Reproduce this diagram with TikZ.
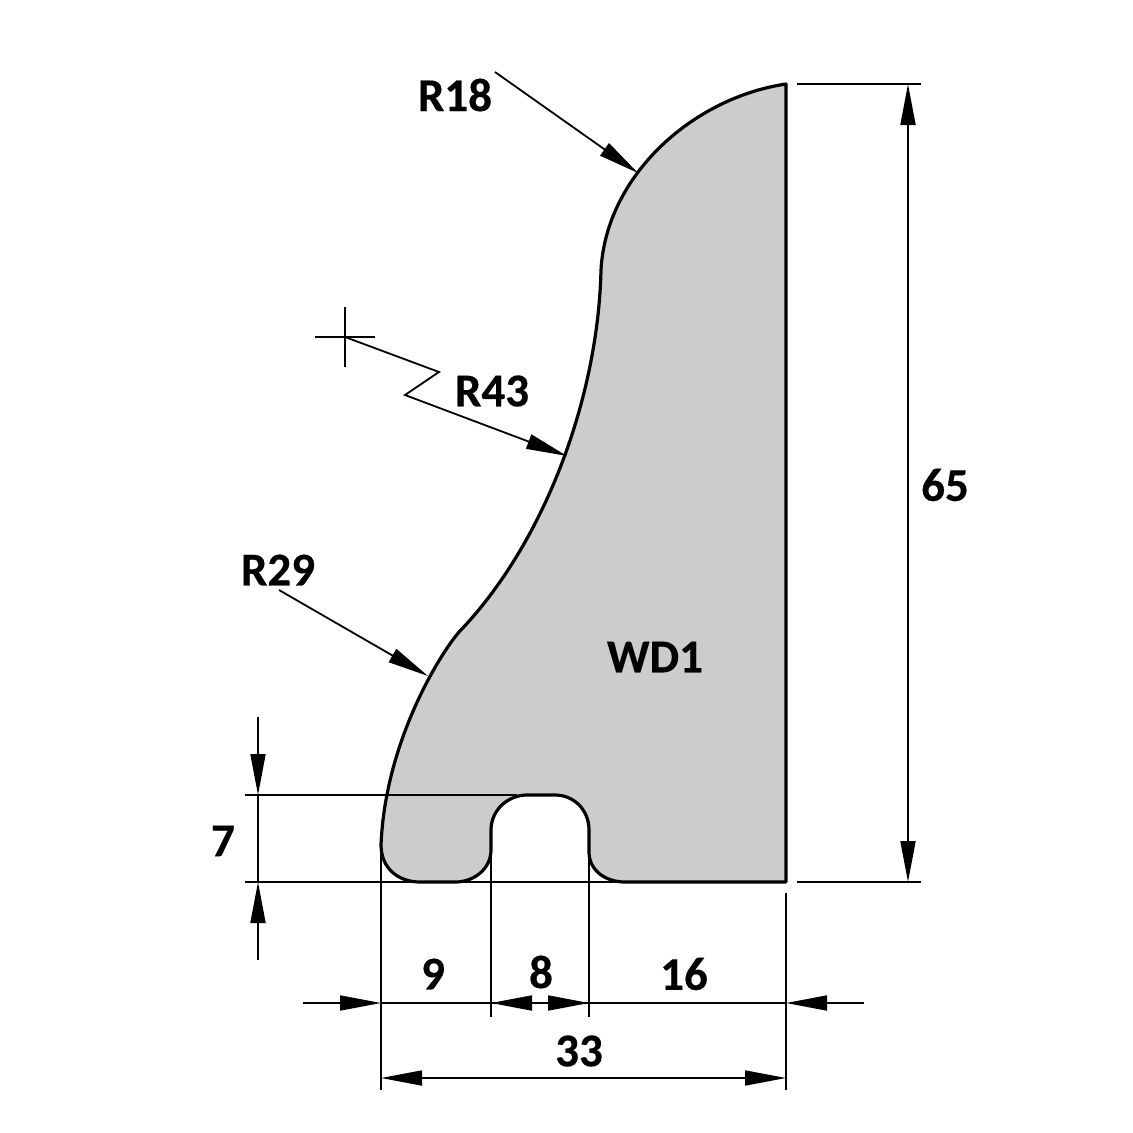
\documentclass[tikz,border=0pt]{standalone}
\usepackage{fontspec}
\setmainfont{Carlito}[BoldFeatures={FakeBold=0.4}]
\usetikzlibrary{arrows.meta}
\tikzset{
  dimline/.style={draw=black,line width=1.8pt},
  tip/.style={-{Triangle[length=41pt,width=15pt]}},
  bothtips/.style={{Triangle[length=41pt,width=15pt]}-{Triangle[length=41pt,width=15pt]}},
  label/.style={font=\fontsize{47}{47}\selectfont\bfseries,inner sep=0pt,text=black},
  profile/.style={draw=black,line width=3.2pt,fill=black!20,line join=round},
}
\begin{document}
\begin{tikzpicture}[x=1pt,y=-1pt]
\useasboundingbox (0,0) rectangle (1133,1133);
\fill[white] (0,0) rectangle (1133,1133);
% profile
\draw[profile] (786,84)
  .. controls (692,98) and (606,176) .. (601,270)
  .. controls (598,400) and (543,545) .. (459,632)
  .. controls (437,658) and (385,745) .. (381,845)
  .. controls (381,868) and (398,882) .. (420,882)
  -- (455,882)
  .. controls (475,882) and (491,868) .. (491,850)
  -- (491,830)
  .. controls (491,810) and (508,795) .. (527,795)
  -- (555,795)
  .. controls (574,795) and (589,810) .. (589,830)
  -- (589,852)
  .. controls (589,870) and (605,882) .. (625,882)
  -- (786,882) -- cycle;
% named points
\coordinate (top) at (908,84);
\coordinate (bot) at (908,882);
\coordinate (t18a) at (495,72);
\coordinate (t18b) at (638,173);
\coordinate (t29a) at (279,590);
\coordinate (t29b) at (428,676);
\coordinate (cc) at (345,337);
\coordinate (z1) at (439,372);
\coordinate (z2) at (405,395);
\coordinate (t43) at (567,456);
% extension lines
\draw[dimline] (797,84) -- (921,84);
\draw[dimline] (797,882) -- (921,882);
\draw[dimline] (245,795) -- (517,795);
\draw[dimline] (245,882) -- (625,882);
\draw[dimline] (381,852) -- (381,1090);
\draw[dimline] (491,855) -- (491,1017);
\draw[dimline] (589,855) -- (589,1017);
\draw[dimline] (786,893) -- (786,1090);
% 65
\draw[dimline,bothtips] (top) -- (bot);
% 7
\coordinate (a7) at (258,795);
\coordinate (b7) at (258,882);
\coordinate (a7o) at (258,717);
\coordinate (b7o) at (258,960);
\draw[dimline] (a7) -- (b7);
\draw[dimline,tip] (a7o) -- (a7);
\draw[dimline,tip] (b7o) -- (b7);
% chain row
\coordinate (r0) at (303,1003);
\coordinate (r1) at (381,1003);
\coordinate (r2) at (491,1003);
\coordinate (r3) at (589,1003);
\coordinate (r4) at (786,1003);
\coordinate (r5) at (864,1003);
\draw[dimline] (r1) -- (r4);
\draw[dimline,tip] (r0) -- (r1);
\draw[dimline,tip] (r3) -- (r2);
\draw[dimline,tip] (r2) -- (r3);
\draw[dimline,tip] (r5) -- (r4);
% 33
\coordinate (s1) at (381,1078);
\coordinate (s2) at (786,1078);
\draw[dimline,bothtips] (s1) -- (s2);
% radii
\draw[dimline,tip] (t18a) -- (t18b);
\draw[dimline,tip] (t29a) -- (t29b);
\draw[dimline] (315,337) -- (375,337);
\draw[dimline] (345,307) -- (345,367);
\draw[dimline,tip] (cc) -- (z1) -- (z2) -- (t43);
% labels
\node[label] (l18) at (455,95) {R18};
\node[label] (l43) at (492,391) {R43};
\node[label] (l29) at (278,570) {R29};
\node[label] (l65) at (945,485) {65};
\node[label] (lwd) at (655,657) {WD1};
\node[label] (l7) at (223,841) {7};
\node[label] (l9) at (433,974) {9};
\node[label] (l8) at (541,972) {8};
\node[label] (l16) at (684,974) {16};
\node[label] (l33) at (579,1051) {33};
\end{tikzpicture}
\end{document}
